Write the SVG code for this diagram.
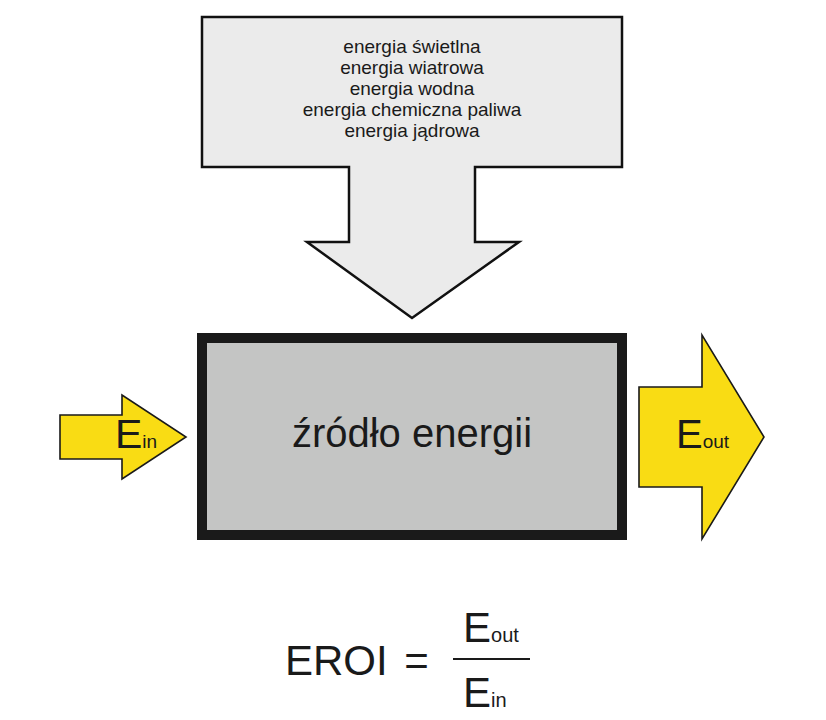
<svg xmlns="http://www.w3.org/2000/svg" width="826" height="720" viewBox="0 0 826 720">
<style>
text{font-family:"Liberation Sans",Arial,sans-serif;fill:#1a1a1a}
.src{fill:#ebebeb;stroke:#111;stroke-width:2.5;stroke-linejoin:miter}
.box{fill:#c4c5c4;stroke:#1a1a1a;stroke-width:10}
.yel{fill:#f9dc14;stroke:#1a1a1a;stroke-width:1.6;stroke-linejoin:miter}
.small{font-size:19px;text-anchor:middle}
</style>
<rect width="826" height="720" fill="#fff"/>
<g id="sources">
<path class="src" d="M202,17 H622 V167 H475 V242 H519 L412,318 L307,242 H349 V167 H202 Z"/>
<text class="small" x="412" y="53">energia świetlna</text>
<text class="small" x="412" y="74">energia wiatrowa</text>
<text class="small" x="412" y="95">energia wodna</text>
<text class="small" x="412" y="116">energia chemiczna paliwa</text>
<text class="small" x="412" y="137">energia jądrowa</text>
</g>
<g id="zrodlo">
<rect class="box" x="202" y="338" width="420" height="197"/>
<text x="412" y="447" font-size="40" text-anchor="middle">źródło energii</text>
</g>
<g id="connectors">
<g id="ein">
<path class="yel" d="M60,415 H122 V395 L186,437 L122,479 V459 H60 Z"/>
<text x="115" y="448" font-size="41">E<tspan font-size="19">in</tspan></text>
</g>
<g id="eout">
<path class="yel" d="M639,387 H702 V335 L764,437 L702,539 V487 H639 Z"/>
<text x="676" y="448" font-size="40">E<tspan font-size="19">out</tspan></text>
</g>
</g>
<g id="formula">
<text x="285" y="675" font-size="42">EROI <tspan dx="5">=</tspan></text>
<line x1="453" y1="659" x2="530" y2="659" stroke="#1a1a1a" stroke-width="2"/>
<text x="463" y="642" font-size="42">E<tspan font-size="20">out</tspan></text>
<text x="463" y="707" font-size="42">E<tspan font-size="20">in</tspan></text>
</g>
</svg>
